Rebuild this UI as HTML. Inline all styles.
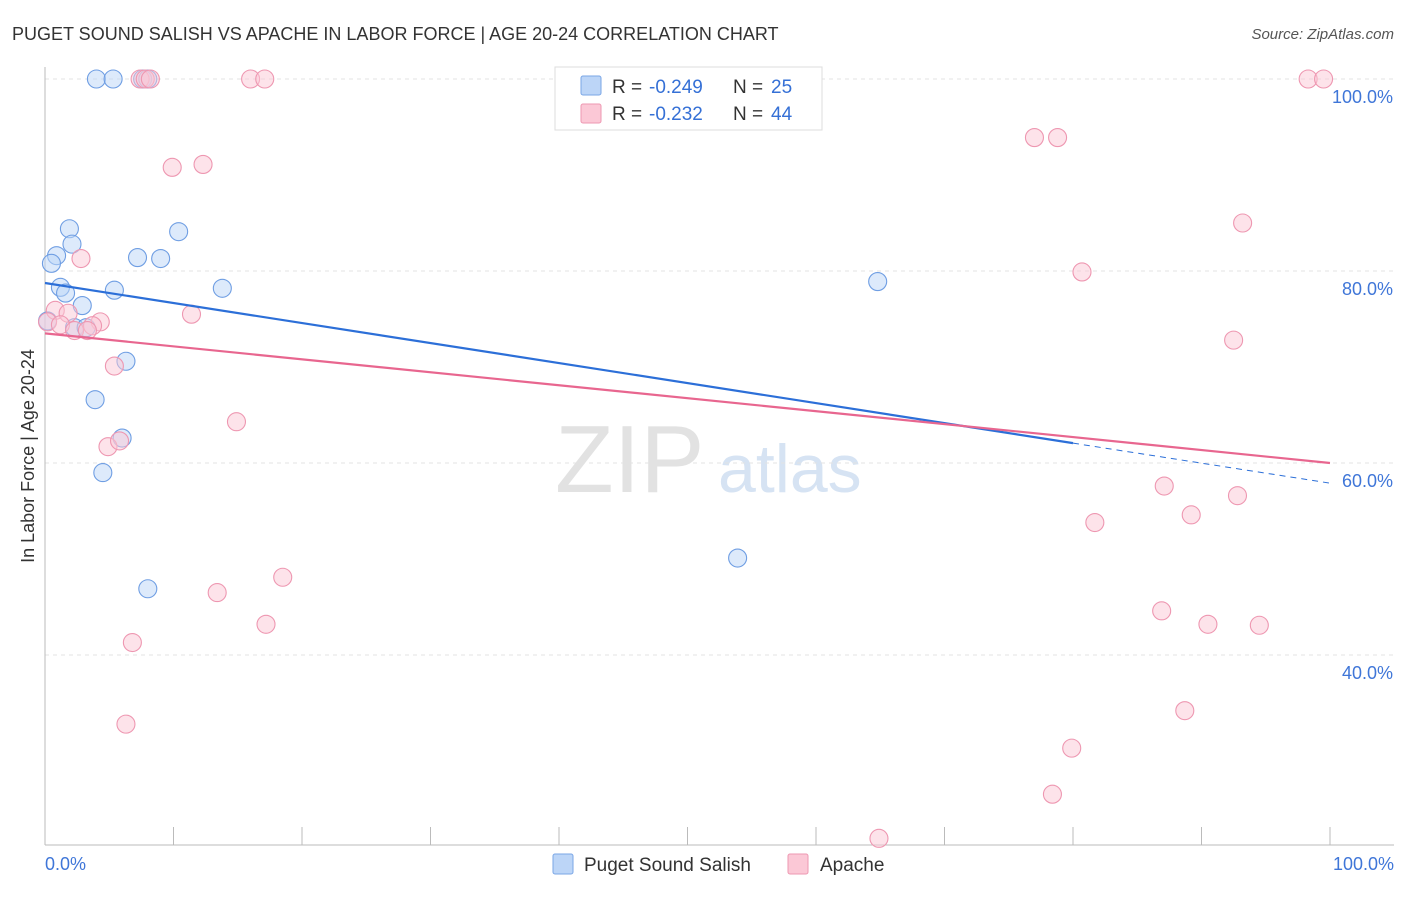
<!DOCTYPE html>
<html><head><meta charset="utf-8"><style>
body{margin:0;background:#fff;font-family:"Liberation Sans",sans-serif;}
svg text{font-family:"Liberation Sans",sans-serif;}
</style></head><body>
<svg id="c" width="1406" height="892" xmlns="http://www.w3.org/2000/svg">
<text x="12" y="40" font-size="18" fill="#333">PUGET SOUND SALISH VS APACHE IN LABOR FORCE | AGE 20-24 CORRELATION CHART</text>
<text x="1394" y="39" font-size="15" fill="#555" font-style="italic" text-anchor="end">Source: ZipAtlas.com</text>
<text x="555" y="492" font-size="96" fill="#e2e2e2" font-family="Liberation Serif">ZIP</text>
<text x="718" y="492" font-size="68" fill="#d6e3f3">atlas</text>
<text transform="translate(34,456) rotate(-90)" font-size="18" fill="#333" text-anchor="middle">In Labor Force | Age 20-24</text>
<g id="grid"></g><g id="axes"></g><g id="pts"></g><g id="lines"></g>
<g>
<rect x="555" y="67" width="267" height="63" fill="#fff" stroke="#ddd"/>
<rect x="581" y="76" width="20" height="19" fill="#bcd5f7" stroke="#7aa6e6" rx="2"/>
<rect x="581" y="104" width="20" height="19" fill="#fbc8d6" stroke="#ee97b1" rx="2"/>
<text x="612" y="93" font-size="19" fill="#333">R =</text>
<text x="649" y="93" font-size="19" fill="#3570d6">-0.249</text>
<text x="733" y="93" font-size="19" fill="#333">N =</text>
<text x="771" y="93" font-size="19" fill="#3570d6">25</text>
<text x="612" y="120" font-size="19" fill="#333">R =</text>
<text x="649" y="120" font-size="19" fill="#3570d6">-0.232</text>
<text x="733" y="120" font-size="19" fill="#333">N =</text>
<text x="771" y="120" font-size="19" fill="#3570d6">44</text>
</g>
<g>
<rect x="553" y="854" width="20" height="20" fill="#bcd5f7" stroke="#7aa6e6" rx="2"/>
<text x="584" y="871" font-size="19" fill="#333">Puget Sound Salish</text>
<rect x="788" y="854" width="20" height="20" fill="#fbc8d6" stroke="#ee97b1" rx="2"/>
<text x="820" y="871" font-size="19" fill="#333">Apache</text>
</g>
<text x="45" y="870" font-size="18" fill="#3f76d8">0.0%</text>
<text x="1394" y="870" font-size="18" fill="#3f76d8" text-anchor="end">100.0%</text>
</svg>
<script>
const blueX=[4.0,5.3,7.6,8.0,1.9,2.1,0.9,0.5,7.2,9.0,10.4,1.2,1.6,5.4,13.8,2.9,0.2,2.3,3.2,6.3,3.9,6.0,4.5,8.0,53.9,64.8];
const blueY=[100,100,100,100,84.4,82.8,81.6,80.8,81.4,81.3,84.1,78.3,77.7,78.0,78.2,76.4,74.8,74.1,74.1,70.6,66.6,62.6,59.0,46.9,50.1,78.9];
const pinkX=[7.4,7.8,8.2,16.0,17.1,98.3,99.5,9.9,12.3,77.0,78.8,93.2,2.8,80.7,11.4,0.8,1.8,0.2,1.2,4.3,3.7,2.3,3.3,5.4,92.5,14.9,4.9,5.8,87.1,92.8,89.2,81.7,18.5,13.4,86.9,17.2,90.5,94.5,6.8,6.3,88.7,79.9,78.4,64.9];
const pinkY=[100,100,100,100,100,100,100,90.8,91.1,93.9,93.9,85.0,81.3,79.9,75.5,75.9,75.6,74.7,74.4,74.7,74.3,73.8,73.8,70.1,72.8,64.3,61.7,62.3,57.6,56.6,54.6,53.8,48.1,46.5,44.6,43.2,43.2,43.1,41.3,32.8,34.2,30.3,25.5,20.9];
const yTicks=[100,80,60,40];
const yTickLabels=["100.0%","80.0%","60.0%","40.0%"];
const blueTrend=[78.75,57.9];
const pinkTrend=[73.5,60.0];
const blueSolidEnd=80;
const NS="http://www.w3.org/2000/svg";
const sx=v=>45+v*12.85, sy=v=>79+(100-v)*9.6;
function mk(p,t,a){const e=document.createElementNS(NS,t);for(const k in a)e.setAttribute(k,a[k]);p.appendChild(e);return e;}
const grid=document.getElementById('grid'),axes=document.getElementById('axes'),pts=document.getElementById('pts'),lines=document.getElementById('lines');
yTicks.forEach((t,i)=>{
 const l=mk(grid,'line',{x1:45,x2:1394,y1:sy(t),y2:sy(t),stroke:'#e3e3e3','stroke-dasharray':'4,4'});
 
 
 const tx=mk(axes,'text',{x:1393,y:sy(t)+24,'font-size':18,fill:'#3f76d8','text-anchor':'end'});
 tx.textContent=yTickLabels[i];
 
 
});
mk(axes,'line',{x1:45,x2:45,y1:67,y2:845,stroke:'#bbb'});
mk(axes,'line',{x1:45,x2:1394,y1:845,y2:845,stroke:'#bbb'});
for(let i=0;i<=10;i++){const t=mk(axes,'line',{x1:sx(i*10),x2:sx(i*10),y1:827,y2:845,stroke:'#bbb'});
 
 }
function dots(X,Y,f,s,n){X.forEach((x,i)=>{const c=mk(pts,'circle',{cx:sx(x),cy:sy(Y[i]),r:9,fill:f,'fill-opacity':0.5,stroke:s,'stroke-width':1.1});
 
 });}
dots(blueX,blueY,'#bcd5f7','#6f9ee3','salish-point');
dots(pinkX,pinkY,'#fbc8d6','#ee97b1','apache-point');
const bAt=x=>blueTrend[0]+(blueTrend[1]-blueTrend[0])*x/100;
const bl=mk(lines,'line',{x1:sx(0),y1:sy(bAt(0)),x2:sx(blueSolidEnd),y2:sy(bAt(blueSolidEnd)),stroke:'#2c6fd8','stroke-width':2.2});


const bd=mk(lines,'line',{x1:sx(blueSolidEnd),y1:sy(bAt(blueSolidEnd)),x2:sx(100),y2:sy(bAt(100)),stroke:'#2c6fd8','stroke-width':1,'stroke-dasharray':'6,5'});


const pl=mk(lines,'line',{x1:sx(0),y1:sy(pinkTrend[0]),x2:sx(100),y2:sy(pinkTrend[1]),stroke:'#e8668f','stroke-width':2.2});


</script>
</body></html>
